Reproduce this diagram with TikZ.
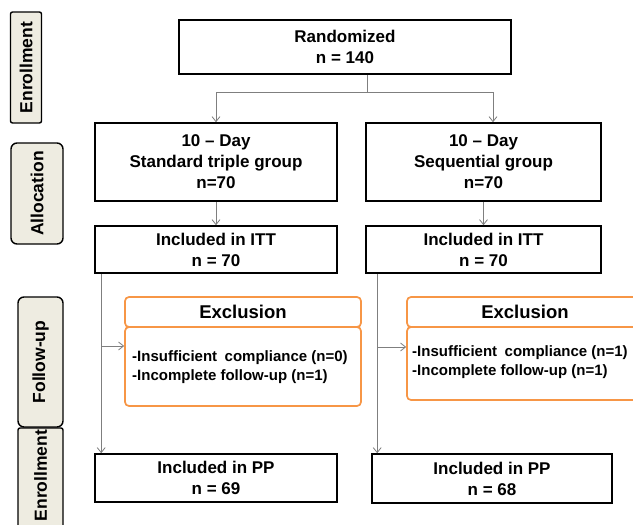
\documentclass[tikz,border=0pt]{standalone}
\usepackage{fontspec}
\setmainfont{Liberation Sans}
\usetikzlibrary{arrows.meta}
\definecolor{exor}{HTML}{F79646}
\definecolor{labfill}{HTML}{EEECE1}
\definecolor{conncol}{HTML}{7F7F7F}
\begin{document}
\begin{tikzpicture}[x=1pt,y=-1pt,
  mainbox/.style={draw, line width=1.6pt, align=center, inner sep=0pt,
    font=\bfseries\fontsize{17}{21}\selectfont},
  labbox/.style={draw, line width=1.4pt, fill=labfill, rounded corners=6pt,
    inner sep=0pt, rotate=90, font=\labfont},
  labtext/.style={inner sep=0pt, rotate=90, font=\labfont},
  exbox/.style={draw=exor, line width=1.7pt, rounded corners=4pt, inner sep=0pt},
  exhead/.style={exbox, font=\bfseries\fontsize{18.5}{20}\selectfont},
  extext/.style={align=left, inner sep=0pt, anchor=west,
    font=\bfseries\fontsize{15}{19}\selectfont},
  conn/.style={draw=conncol, line width=0.8pt},
  arr/.style={conn, -{Straight Barb[length=5pt,width=8pt]}}]
\def\labfont{\bfseries\fontsize{17.5}{20}\selectfont}
\useasboundingbox (0,0) rectangle (633,525);
\clip (0,0) rectangle (633,525);

% left stage labels
\node (labE1) [labbox, rounded corners=2pt, minimum width=111pt, minimum height=31pt] at (26,67.5) {Enrollment};
\node (labA) [labbox, minimum width=101pt, minimum height=52pt] at (37,193.5) {Allocation};
\node (labF) [labbox, minimum width=130pt, minimum height=45pt] at (40.5,362) {Follow-up};
\node (labE2) [labbox, rounded corners=2pt, minimum width=104pt, minimum height=45pt] at (40.5,480) {};
\node (labE2t) [labtext] at (labE2.center |- 0,475.5) {Enrollment};

% main boxes
\node (rand) [mainbox, minimum width=332pt, minimum height=54pt] at (345,47) {Randomized\\n = 140};
\node (allocL) [mainbox, minimum width=242pt, minimum height=78pt] at (216,162) {10 -- Day\\Standard triple group\\n=70};
\node (allocR) [mainbox, minimum width=235pt, minimum height=78pt] at (483.5,162) {10 -- Day\\Sequential group\\n=70};
\node (ittL) [mainbox, minimum width=242pt, minimum height=47pt] at (216,249.5) {Included in ITT\\n = 70};
\node (ittR) [mainbox, minimum width=235pt, minimum height=47pt] at (483.5,249.5) {Included in ITT\\n = 70};
\node (ppL) [mainbox, minimum width=242pt, minimum height=48pt] at (216,478) {Included in PP\\n = 69};
\node (ppR) [mainbox, minimum width=240pt, minimum height=49pt] at (492,478.5) {Included in PP\\n = 68};

% exclusion boxes
\node (exbL) [exbox, minimum width=236pt, minimum height=79pt] at (243,366.5) {};
\node (exhL) [exhead, minimum width=236pt, minimum height=30pt] at (243,312) {Exclusion};
\node (extL) [extext] at (132,367.5) {-Insufficient\hspace{0.5em}compliance (n=0)\\-Incomplete follow-up (n=1)};
\node (exbR) [exbox, minimum width=236pt, minimum height=73pt] at (525,363.5) {};
\node (exhR) [exhead, minimum width=236pt, minimum height=30pt] at (525,312) {Exclusion};
\node (extR) [extext] at (412,362) {-Insufficient\hspace{0.5em}compliance (n=1)\\-Incomplete follow-up (n=1)};

% connectors
\coordinate (split) at (367,92);
\draw[conn] ([xshift=22pt]rand.south) -- (split);
\draw[arr] (split) -| (allocL.north);
\draw[arr] (split) -| ([xshift=9.5pt]allocR.north);
\draw[arr] (allocL.south) -- (ittL.north);
\draw[arr] (allocR.south) -- (ittR.north);
\draw[arr] ([xshift=7pt]ittL.south west) -- ([xshift=7pt]ppL.north west);
\coordinate (brL) at (102,346);
\draw[arr] (brL) -- (brL -| exbL.west);
\draw[arr] ([xshift=12pt]ittR.south west) -- ([xshift=12pt]ittR.south west |- ppR.north);
\coordinate (brR) at (378,347);
\draw[arr] (brR) -- (brR -| exbR.west);
\end{tikzpicture}
\end{document}
